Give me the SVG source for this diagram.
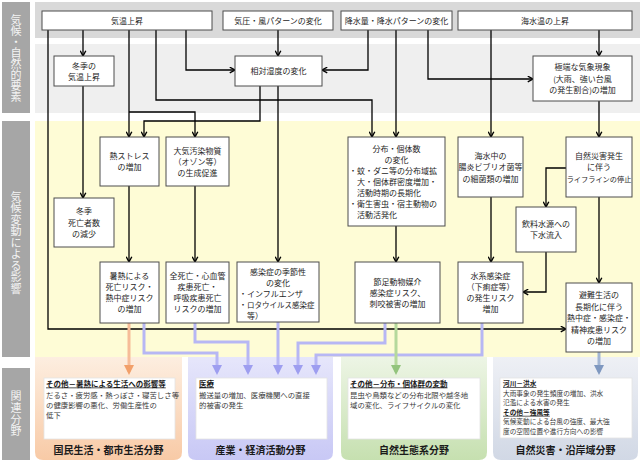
<svg xmlns="http://www.w3.org/2000/svg" width="640" height="463" viewBox="0 0 640 463">
<defs>
<style>
text{font-family:"Noto Sans CJK JP","Noto Sans",sans-serif;}
.box{fill:#fff;stroke:#4d4d4d;stroke-width:1}
.t{font-size:8px;fill:#262626;text-anchor:middle}
.tl{font-size:8px;fill:#262626;text-anchor:start}
.lab{font-size:11px;fill:#f4f4f4;text-anchor:middle;writing-mode:vertical-rl}
.c{fill:none;stroke:#000;stroke-width:1.3;marker-end:url(#ah)}
.cc{fill:none;stroke-width:3}
.wb{fill:#fff;stroke:#e3e3e3;stroke-width:0.8}
.bt{font-size:7.4px;fill:#3a3a3a}
.bh{font-size:7.5px;font-weight:bold;fill:#1a1a1a;text-decoration:underline}
.sm{font-size:6.7px}
.pt{font-size:10px;font-weight:bold;fill:#1a1a1a;text-anchor:middle}
</style>
<marker id="ah" viewBox="0 0 10 10" refX="9" refY="5" markerWidth="7" markerHeight="7" orient="auto" markerUnits="userSpaceOnUse"><path d="M1.5,1 L9,5 L1.5,9" fill="none" stroke="#000" stroke-width="2"/></marker>
<marker id="ao" viewBox="0 0 10 10" refX="7" refY="5" markerWidth="10" markerHeight="10" orient="auto" markerUnits="userSpaceOnUse"><path d="M0,0 L10,5 L0,10 z" fill="#f2a06a"/></marker>
<marker id="al" viewBox="0 0 10 10" refX="7" refY="5" markerWidth="10" markerHeight="10" orient="auto" markerUnits="userSpaceOnUse"><path d="M0,0 L10,5 L0,10 z" fill="#9e9ef0"/></marker>
<marker id="ag" viewBox="0 0 10 10" refX="7" refY="5" markerWidth="10" markerHeight="10" orient="auto" markerUnits="userSpaceOnUse"><path d="M0,0 L10,5 L0,10 z" fill="#93c47d"/></marker>
<marker id="ab" viewBox="0 0 10 10" refX="7" refY="5" markerWidth="10" markerHeight="10" orient="auto" markerUnits="userSpaceOnUse"><path d="M0,0 L10,5 L0,10 z" fill="#7f98c0"/></marker>
<linearGradient id="go" x1="0" y1="0" x2="0" y2="1"><stop offset="0" stop-color="#fdeee0"/><stop offset="1" stop-color="#f8caa6"/></linearGradient>
<linearGradient id="gp" x1="0" y1="0" x2="0" y2="1"><stop offset="0" stop-color="#e6e6fb"/><stop offset="1" stop-color="#c8c8f5"/></linearGradient>
<linearGradient id="gg" x1="0" y1="0" x2="0" y2="1"><stop offset="0" stop-color="#edf5e5"/><stop offset="1" stop-color="#c6e0b0"/></linearGradient>
<linearGradient id="gb" x1="0" y1="0" x2="0" y2="1"><stop offset="0" stop-color="#eef0f5"/><stop offset="1" stop-color="#d1d8e5"/></linearGradient>
</defs>

<g id="background">
<rect x="35" y="2" width="605" height="36" fill="#d9d9d9"/>
<rect x="35" y="44" width="605" height="69" fill="#efefef"/>
<rect x="35" y="121" width="605" height="236" fill="#fefcd6"/>
<path d="M35,357 H182 V452 Q182,460 174,460 H43 Q35,460 35,452 Z" fill="url(#go)"/>
<path d="M188,357 H333 V452 Q333,460 325,460 H196 Q188,460 188,452 Z" fill="url(#gp)"/>
<path d="M341,357 H487 V452 Q487,460 479,460 H349 Q341,460 341,452 Z" fill="url(#gg)"/>
<path d="M493,357 H638 V452 Q638,460 630,460 H501 Q493,460 493,452 Z" fill="url(#gb)"/>
</g>

<g id="side-labels">
<rect x="2" y="2" width="28" height="111" fill="#a6a6a6"/>
<rect x="2" y="121" width="28" height="236" fill="#a6a6a6"/>
<rect x="2" y="368" width="28" height="92" fill="#a6a6a6"/>
<text class="lab" x="16" y="58">気候・自然的要素</text>
<text class="lab" x="16" y="243" style="letter-spacing:0.5px">気候変動による影響</text>
<text class="lab" x="16" y="414" style="letter-spacing:0.7px">関連分野</text>
</g>

<g id="connectors">
<path class="c" d="M48,30 V329 H566"/>
<path class="c" d="M83,30 V56"/>
<path class="c" d="M83,86 V198"/>
<path class="c" d="M129,30 V137"/>
<path class="c" d="M129,112 H195 V137"/>
<path class="c" d="M156,30 V100 H372 V137"/>
<path class="c" d="M186,30 V70 H235"/>
<path class="c" d="M278,30 V56"/>
<path class="c" d="M368,30 V70 H322"/>
<path class="c" d="M396,30 V137"/>
<path class="c" d="M428,30 V79 H533"/>
<path class="c" d="M491,30 V137"/>
<path class="c" d="M599,30 V56"/>
<path class="c" d="M260,86 V121 H144 V137"/>
<path class="c" d="M278,86 V262"/>
<path class="c" d="M599,101 V137"/>
<path class="c" d="M129,186 V262"/>
<path class="c" d="M195,186 V262"/>
<path class="c" d="M396,226 V262"/>
<path class="c" d="M491,197 V262"/>
<path class="c" d="M566,168 H546 V207"/>
<path class="c" d="M546,252 V292 H523"/>
<path class="c" d="M599,197 V283"/>
<path class="cc" stroke="#f6bc98" marker-end="url(#ao)" d="M129,323 V372"/>
<path class="cc" stroke="#b7b7f4" marker-end="url(#al)" d="M144,323 V353 H217 V372"/>
<path class="cc" stroke="#b7b7f4" marker-end="url(#al)" d="M195,323 V342 H248 V372"/>
<path class="cc" stroke="#b7b7f4" marker-end="url(#al)" d="M278,322 V372"/>
<path class="cc" stroke="#b7b7f4" marker-end="url(#al)" d="M385,323 V343 H298 V372"/>
<path class="cc" stroke="#b7b7f4" marker-end="url(#al)" d="M482,323 V355 H316 V372"/>
<path class="cc" stroke="#b5d99c" marker-end="url(#ag)" d="M396,323 V372"/>
<path class="cc" stroke="#a3b6d3" marker-end="url(#ab)" d="M599,352 V372"/>
</g>

<g id="n-kion"><rect class="box" x="42" y="11" width="170" height="19"/><text class="t" x="127" y="23.5">気温上昇</text></g>
<g id="n-kiatsu"><rect class="box" x="223" y="11" width="110" height="19"/><text class="t" x="278" y="23.5">気圧・風パターンの変化</text></g>
<g id="n-kousui"><rect class="box" x="341" y="11" width="111" height="19"/><text class="t" x="396.5" y="23.5">降水量・降水パターンの変化</text></g>
<g id="n-kaisui"><rect class="box" x="458" y="11" width="174" height="19"/><text class="t" x="545" y="23.5">海水温の上昇</text></g>

<g id="n-touki-kion"><rect class="box" x="54" y="56" width="60" height="30"/><text class="t" x="84" y="68.5">冬季の</text><text class="t" x="84" y="79.5">気温上昇</text></g>
<g id="n-shitsudo"><rect class="box" x="235" y="56" width="87" height="30"/><text class="t" x="278.5" y="74">相対湿度の変化</text></g>
<g id="n-kyokutan"><rect class="box" x="533" y="56" width="99" height="45"/><text class="t" x="582.5" y="70">極端な気象現象</text><text class="t" x="582.5" y="81.5">(大雨、強い台風</text><text class="t" x="582.5" y="93">の発生割合)の増加</text></g>

<g id="n-netsu-stress"><rect class="box" x="100" y="137" width="59" height="49"/><text class="t" x="129.5" y="159">熱ストレス</text><text class="t" x="129.5" y="170">の増加</text></g>
<g id="n-taiki"><rect class="box" x="166" y="137" width="63" height="49"/><text class="t" x="197.5" y="153.5">大気汚染物質</text><text class="t" x="197.5" y="164.5">（オゾン等）</text><text class="t" x="197.5" y="175.5">の生成促進</text></g>
<g id="n-touki-shibou"><rect class="box" x="54" y="198" width="60" height="49"/><text class="t" x="84" y="214">冬季</text><text class="t" x="84" y="225.5">死亡者数</text><text class="t" x="84" y="237">の減少</text></g>
<g id="n-bunpu"><rect class="box" x="348" y="137" width="97" height="89"/>
<text class="t" x="396.5" y="152">分布・個体数</text><text class="t" x="396.5" y="163">の変化</text>
<text class="tl" x="349" y="174">・</text><text class="tl" x="357" y="174">蚊・ダニ等の分布域拡</text>
<text class="tl" x="357" y="185">大・個体群密度増加・</text>
<text class="tl" x="357" y="196">活動時期の長期化</text>
<text class="tl" x="349" y="207">・</text><text class="tl" x="357" y="207">衛生害虫・宿主動物の</text>
<text class="tl" x="357" y="218">活動活発化</text></g>
<g id="n-kaisuichu"><rect class="box" x="458" y="137" width="65" height="60"/><text class="t" x="490.5" y="158.5">海水中の</text><text class="t" x="490.5" y="170">腸炎ビブリオ菌等</text><text class="t" x="490.5" y="181.5">の細菌類の増加</text></g>
<g id="n-saigai"><rect class="box" x="566" y="137" width="66" height="60"/><text class="t" x="599" y="158.5">自然災害発生</text><text class="t" x="599" y="170">に伴う</text><text class="t" x="599" y="182" style="font-size:7.2px">ライフラインの停止</text></g>
<g id="n-inryou"><rect class="box" x="516" y="207" width="60" height="45"/><text class="t" x="546" y="227">飲料水源への</text><text class="t" x="546" y="238">下水流入</text></g>

<g id="n-shonetsu"><rect class="box" x="100" y="262" width="59" height="61"/><text class="t" x="129.5" y="279">暑熱による</text><text class="t" x="129.5" y="290">死亡リスク・</text><text class="t" x="129.5" y="301">熱中症リスク</text><text class="t" x="129.5" y="312">の増加</text></g>
<g id="n-zenshibou"><rect class="box" x="166" y="262" width="63" height="61"/><text class="t" x="197.5" y="279">全死亡・心血管</text><text class="t" x="197.5" y="290">疾患死亡・</text><text class="t" x="197.5" y="301">呼吸疾患死亡</text><text class="t" x="197.5" y="312">リスクの増加</text></g>
<g id="n-kisetsu"><rect class="box" x="237" y="262" width="82" height="60"/>
<text class="t" x="278" y="275">感染症の季節性</text><text class="t" x="278" y="286">の変化</text>
<text class="tl" x="239" y="297">・</text><text class="tl" x="247" y="297">インフルエンザ</text>
<text class="tl" x="239" y="308">・</text><text class="tl" x="247" y="308" style="font-size:7.5px">ロタウイルス感染症</text>
<text class="tl" x="247" y="319">等）</text></g>
<g id="n-sessoku"><rect class="box" x="355" y="262" width="85" height="61"/><text class="t" x="397.5" y="284.5">節足動物媒介</text><text class="t" x="397.5" y="296">感染症リスク、</text><text class="t" x="397.5" y="307">刺咬被害の増加</text></g>
<g id="n-suikei"><rect class="box" x="458" y="262" width="65" height="61"/><text class="t" x="490.5" y="279">水系感染症</text><text class="t" x="490.5" y="290">（下痢症等）</text><text class="t" x="490.5" y="301">の発生リスク</text><text class="t" x="490.5" y="312">増加</text></g>
<g id="n-hinan"><rect class="box" x="566" y="283" width="66" height="69"/><text class="t" x="599" y="298">避難生活の</text><text class="t" x="599" y="309.5">長期化に伴う</text><text class="t" x="599" y="321">熱中症・感染症・</text><text class="t" x="599" y="332.5">精神疾患リスク</text><text class="t" x="599" y="344">の増加</text></g>

<g id="p-kokumin"><rect class="wb" x="44" y="378" width="131" height="61"/>
<text class="bh" x="46" y="386.5">その他－暑熱による生活への影響等</text>
<text class="bt" x="46" y="398">だるさ・疲労感・熱っぽさ・寝苦しさ等</text>
<text class="bt" x="46" y="408">の健康影響の悪化、労働生産性の</text>
<text class="bt" x="46" y="418">低下</text>
<text class="pt" x="108.5" y="454">国民生活・都市生活分野</text></g>
<g id="p-sangyou"><rect class="wb" x="196" y="378" width="131" height="61"/>
<text class="bh" x="199" y="386.5">医療</text>
<text class="bt" x="199" y="398">搬送量の増加、医療機関への直接</text>
<text class="bt" x="199" y="408">的被害の発生</text>
<text class="pt" x="260.5" y="454">産業・経済活動分野</text></g>
<g id="p-seitai"><rect class="wb" x="348" y="378" width="132" height="61"/>
<text class="bh" x="350" y="386.5">その他－分布・個体群の変動</text>
<text class="bt" x="350" y="398">昆虫や鳥類などの分布北限や越冬地</text>
<text class="bt" x="350" y="408">域の変化、ライフサイクルの変化</text>
<text class="pt" x="414" y="454">自然生態系分野</text></g>
<g id="p-saigai"><rect class="wb" x="500" y="378" width="132" height="60"/>
<text class="bh sm" x="503" y="386">河川－洪水</text>
<text class="bt sm" x="503" y="395.6">大雨事象の発生頻度の増加、洪水</text>
<text class="bt sm" x="503" y="405.2">氾濫による水害の発生</text>
<text class="bh sm" x="503" y="414.8">その他－強風等</text>
<text class="bt sm" x="503" y="424.4">気候変動による台風の強度、最大強</text>
<text class="bt sm" x="503" y="434">度の空間位置や進行方向への影響</text>
<text class="pt" x="565.5" y="454">自然災害・沿岸域分野</text></g>
</svg>
